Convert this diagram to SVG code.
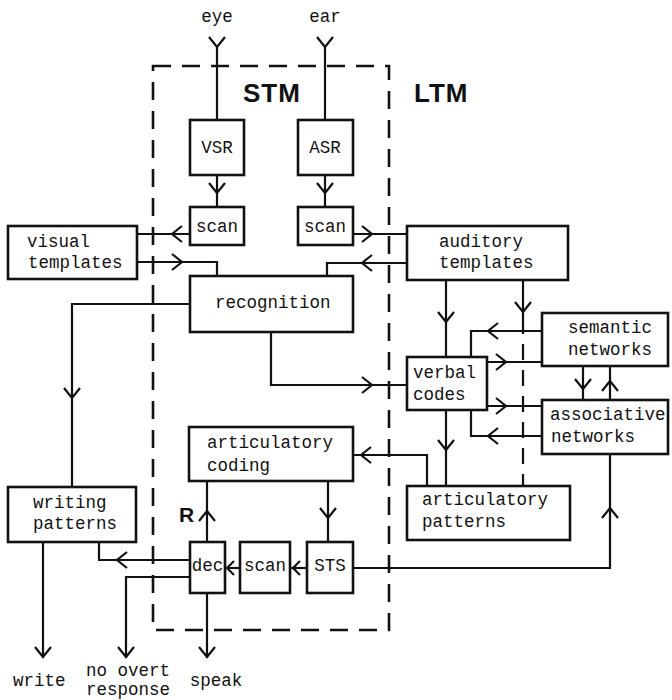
<svg xmlns="http://www.w3.org/2000/svg" xmlns:xlink="http://www.w3.org/1999/xlink" width="672" height="700" viewBox="0 0 672 700">
  <style>
    .box { fill: #fff; stroke: #111; stroke-width: 2.6; }
    .ln { fill: none; stroke: #111; stroke-width: 2.2; stroke-linejoin: miter; }
    .dash { fill: none; stroke: #111; stroke-width: 2.6; stroke-dasharray: 18 11; }
    .ah { fill: none; stroke: #111; stroke-width: 2.2; }
    .t { font-family: "Liberation Mono", "DejaVu Sans Mono", monospace; font-size: 17.5px; fill: #111; }
    .big { font-family: "Liberation Sans", Arial, sans-serif; font-weight: bold; font-size: 26px; fill: #111; letter-spacing: 1px; }
  </style>
  <defs>
    <!-- open chevron arrowhead, tip at origin, pointing along +x -->
    <path id="ah" d="M-10,-8 L0,0 L-10,8"/>
    <path id="ahs" d="M-7,-7 L0,0 L-7,7"/>
  </defs>

  <rect width="672" height="700" fill="#fff"/>

  <!-- memory regions -->
  <g id="stm-region">
    <rect class="dash" x="153" y="66" width="236" height="564"/>
    <text class="big" x="243" y="102">STM</text>
  </g>
  <g id="ltm-label">
    <text class="big" x="414" y="102">LTM</text>
  </g>

  <!-- connectors -->
  <g id="connectors">
    <!-- sensory inputs -->
    <path class="ln" d="M217,47 V120"/>
    <path class="ln" d="M325,47 V120"/>
    <path class="ln" d="M217,175 V207"/>
    <path class="ln" d="M325,175 V207"/>
    <!-- visual path -->
    <path class="ln" d="M190,234 H137"/>
    <path class="ln" d="M137,262 H217 V276"/>
    <!-- auditory path -->
    <path class="ln" d="M353,234 H407"/>
    <path class="ln" d="M407,263 H327 V276"/>
    <!-- templates to verbal codes / articulatory patterns -->
    <path class="ln" d="M446,280 V357"/>
    <path class="ln" d="M523,280 V318"/>
    <path class="dash" d="M523,318 V486" style="stroke-width:2.2;stroke-dasharray:16 10"/>
    <!-- semantic / associative loops -->
    <path class="ln" d="M542,331 H471 V357"/>
    <path class="ln" d="M487,362 H542"/>
    <path class="ln" d="M487,406 H542"/>
    <path class="ln" d="M542,436 H471 V410"/>
    <path class="ln" d="M583,366 V400"/>
    <path class="ln" d="M610,366 V400"/>
    <!-- recognition outputs -->
    <path class="ln" d="M190,304 H72 V487"/>
    <path class="ln" d="M271,332 V385 H407"/>
    <!-- verbal codes to articulatory patterns -->
    <path class="ln" d="M446,410 V486"/>
    <!-- articulatory patterns to articulatory coding -->
    <path class="ln" d="M427,486 V455 H353"/>
    <!-- articulatory coding to STS, dec back to coding -->
    <path class="ln" d="M328,481 V542"/>
    <path class="ln" d="M207,542 V481"/>
    <!-- STS chain -->
    <path class="ln" d="M307,568 H290"/>
    <path class="ln" d="M240,568 H225"/>
    <path class="ln" d="M353,568 H610 V454"/>
    <!-- outputs from dec -->
    <path class="ln" d="M190,560 H99 V542"/>
    <path class="ln" d="M190,577 H126 V658"/>
    <path class="ln" d="M207,593 V658"/>
    <path class="ln" d="M43,542 V658"/>

    <!-- arrowheads -->
    <g class="ah">
      <use xlink:href="#ah" transform="translate(217,47) rotate(90)"/>
      <use xlink:href="#ah" transform="translate(325,47) rotate(90)"/>
      <use xlink:href="#ah" transform="translate(217,193) rotate(90)"/>
      <use xlink:href="#ah" transform="translate(325,193) rotate(90)"/>
      <use xlink:href="#ah" transform="translate(172,234) rotate(180)"/>
      <use xlink:href="#ah" transform="translate(182,262)"/>
      <use xlink:href="#ah" transform="translate(372,234)"/>
      <use xlink:href="#ah" transform="translate(362,263) rotate(180)"/>
      <use xlink:href="#ah" transform="translate(446,322) rotate(90)"/>
      <use xlink:href="#ah" transform="translate(523,312) rotate(90)"/>
      <use xlink:href="#ah" transform="translate(488,331) rotate(180)"/>
      <use xlink:href="#ah" transform="translate(506,362)"/>
      <use xlink:href="#ah" transform="translate(506,406)"/>
      <use xlink:href="#ah" transform="translate(488,436) rotate(180)"/>
      <use xlink:href="#ah" transform="translate(583,389) rotate(90)"/>
      <use xlink:href="#ah" transform="translate(610,381) rotate(-90)"/>
      <use xlink:href="#ah" transform="translate(72,398) rotate(90)"/>
      <use xlink:href="#ah" transform="translate(372,385)"/>
      <use xlink:href="#ah" transform="translate(446,450) rotate(90)"/>
      <use xlink:href="#ah" transform="translate(361,455) rotate(180)"/>
      <use xlink:href="#ah" transform="translate(328,518) rotate(90)"/>
      <use xlink:href="#ah" transform="translate(207,511) rotate(-90)"/>
      <use xlink:href="#ahs" transform="translate(293,568) rotate(180)"/>
      <use xlink:href="#ahs" transform="translate(227,568) rotate(180)"/>
      <use xlink:href="#ah" transform="translate(117,560) rotate(180)"/>
      <use xlink:href="#ah" transform="translate(610,508) rotate(-90)"/>
      <use xlink:href="#ah" transform="translate(126,657) rotate(90)"/>
      <use xlink:href="#ah" transform="translate(207,657) rotate(90)"/>
      <use xlink:href="#ah" transform="translate(43,657) rotate(90)"/>
    </g>
  </g>

  <!-- nodes -->
  <g id="eye"><text class="t" x="217" y="22" text-anchor="middle">eye</text></g>
  <g id="ear"><text class="t" x="325" y="22" text-anchor="middle">ear</text></g>

  <g id="vsr">
    <rect class="box" x="190" y="120" width="54" height="55"/>
    <text class="t" x="217" y="153" text-anchor="middle">VSR</text>
  </g>
  <g id="asr">
    <rect class="box" x="298" y="120" width="55" height="55"/>
    <text class="t" x="325" y="153" text-anchor="middle">ASR</text>
  </g>
  <g id="scan-visual">
    <rect class="box" x="190" y="207" width="54" height="38"/>
    <text class="t" x="217" y="232" text-anchor="middle">scan</text>
  </g>
  <g id="scan-auditory">
    <rect class="box" x="298" y="207" width="55" height="38"/>
    <text class="t" x="325" y="232" text-anchor="middle">scan</text>
  </g>
  <g id="visual-templates">
    <rect class="box" x="8" y="226" width="129" height="53"/>
    <text class="t" x="27" y="247">visual</text>
    <text class="t" x="28" y="268">templates</text>
  </g>
  <g id="auditory-templates">
    <rect class="box" x="407" y="226" width="161" height="54"/>
    <text class="t" x="439" y="247">auditory</text>
    <text class="t" x="439" y="268">templates</text>
  </g>
  <g id="recognition">
    <rect class="box" x="190" y="276" width="163" height="56"/>
    <text class="t" x="215" y="308">recognition</text>
  </g>
  <g id="semantic-networks">
    <rect class="box" x="542" y="313" width="126" height="53"/>
    <text class="t" x="568" y="333">semantic</text>
    <text class="t" x="568" y="355">networks</text>
  </g>
  <g id="associative-networks">
    <rect class="box" x="542" y="400" width="126" height="54"/>
    <text class="t" x="550" y="420">associative</text>
    <text class="t" x="551" y="442">networks</text>
  </g>
  <g id="verbal-codes">
    <rect class="box" x="407" y="357" width="80" height="53"/>
    <text class="t" x="413" y="378">verbal</text>
    <text class="t" x="413" y="400">codes</text>
  </g>
  <g id="articulatory-coding">
    <rect class="box" x="189" y="427" width="164" height="54"/>
    <text class="t" x="207" y="448">articulatory</text>
    <text class="t" x="207" y="471">coding</text>
  </g>
  <g id="articulatory-patterns">
    <rect class="box" x="407" y="486" width="163" height="54"/>
    <text class="t" x="422" y="505">articulatory</text>
    <text class="t" x="422" y="527">patterns</text>
  </g>
  <g id="writing-patterns">
    <rect class="box" x="8" y="487" width="128" height="55"/>
    <text class="t" x="33" y="508">writing</text>
    <text class="t" x="33" y="529">patterns</text>
  </g>
  <g id="dec">
    <rect class="box" x="190" y="542" width="35" height="51"/>
    <text class="t" x="207.5" y="571" text-anchor="middle">dec</text>
  </g>
  <g id="scan-sts">
    <rect class="box" x="240" y="542" width="50" height="51"/>
    <text class="t" x="265" y="571" text-anchor="middle">scan</text>
  </g>
  <g id="sts">
    <rect class="box" x="307" y="542" width="46" height="51"/>
    <text class="t" x="330" y="571" text-anchor="middle">STS</text>
  </g>
  <g id="r-label">
    <text x="179" y="522" font-family="Liberation Sans, Arial, sans-serif" font-weight="bold" font-size="21" fill="#111">R</text>
  </g>

  <!-- response outputs -->
  <g id="write"><text class="t" x="13" y="686">write</text></g>
  <g id="no-overt-response">
    <text class="t" x="128" y="676" text-anchor="middle">no overt</text>
    <text class="t" x="128" y="695" text-anchor="middle">response</text>
  </g>
  <g id="speak"><text class="t" x="216" y="686" text-anchor="middle">speak</text></g>
</svg>
